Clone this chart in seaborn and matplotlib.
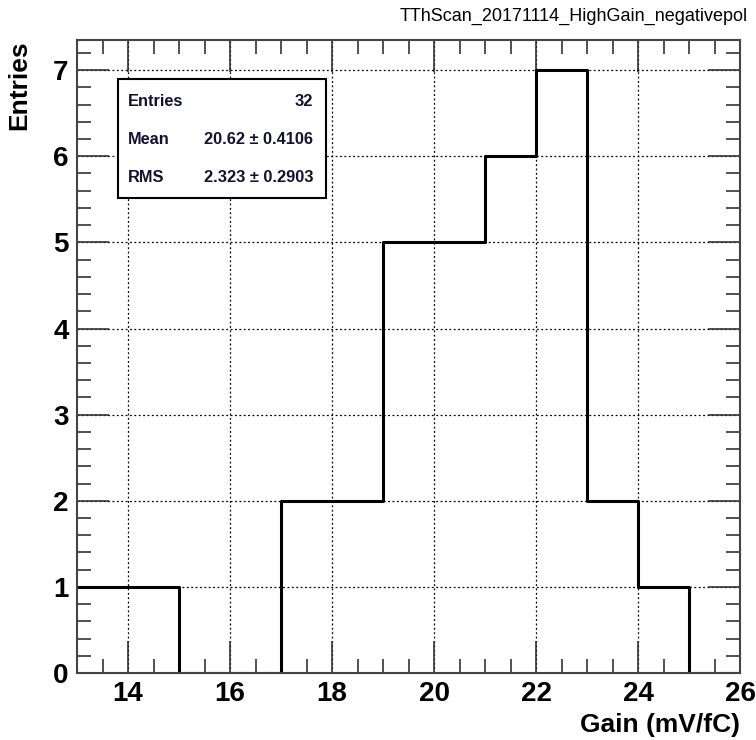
import numpy as np
import pandas as pd
import matplotlib
matplotlib.use("Agg")
import matplotlib.pyplot as plt
from matplotlib.ticker import MultipleLocator
import seaborn as sns

# Data
bin_edges = [13, 14, 15, 16, 17, 18, 19, 20, 21, 22, 23, 24, 25, 26]
counts = [1, 1, 0, 0, 2, 2, 5, 5, 6, 7, 2, 1, 0]
x_ticks = [14, 16, 18, 20, 22, 24, 26]
y_ticks = [0, 1, 2, 3, 4, 5, 6, 7]
title = "TThScan_20171114_HighGain_negativepol"
x_label = "Gain (mV/fC)"
y_label = "Entries"
stats_names = ["Entries", "Mean", "RMS"]
stats_values = ["32", "20.62 \u00b1 0.4106", "2.323 \u00b1 0.2903"]

centers = [(a + b) / 2 for a, b in zip(bin_edges[:-1], bin_edges[1:])]
df = pd.DataFrame({"gain": centers, "n": counts})

sns.set_style("white")
plt.rcParams['font.family'] = ['Liberation Sans', 'DejaVu Sans']
plt.rcParams['text.color'] = 'black'
plt.rcParams['axes.labelcolor'] = 'black'
plt.rcParams['xtick.color'] = 'black'
plt.rcParams['ytick.color'] = 'black'

fig = plt.figure(figsize=(7.56, 7.40), dpi=100)
ax = fig.add_axes([77/756, 1-673/740, (740-77)/756, (673-40)/740])

sns.histplot(data=df, x="gain", weights="n", bins=bin_edges, element="step",
             fill=False, color="black", linewidth=2.2, ax=ax)

ax.set_xlim(13, 26)
ax.set_ylim(0, 7.35)
ax.set_xticks(x_ticks)
ax.set_yticks(y_ticks)
ax.xaxis.set_minor_locator(MultipleLocator(0.5))
ax.yaxis.set_minor_locator(MultipleLocator(0.2))
ax.tick_params(axis='both', which='major', direction='in', length=23, width=1.2,
               top=True, right=True, bottom=True, left=True, labelsize=20,
               color='#333333', labelcolor='black', pad=6)
ax.tick_params(axis='both', which='minor', direction='in', length=10, width=1.2,
               top=True, right=True, bottom=True, left=True, color='#333333')
for lab in ax.get_xticklabels() + ax.get_yticklabels():
    lab.set_fontweight('bold')
ax.grid(True, which='major', linestyle=(0, (1.5, 2)), color='black', linewidth=0.9)
ax.set_axisbelow(True)
for sp in ax.spines.values():
    sp.set_color('#444444')
    sp.set_linewidth(1.5)

ax.set_xlabel(x_label, fontsize=19, fontweight='bold', loc='right', labelpad=4)
ax.set_ylabel(y_label, fontsize=19, fontweight='bold', loc='top', labelpad=16)

fig.text(748/756, 1-16/740, title, ha='right', va='center', fontsize=13)

# Stats box
box = plt.Rectangle((118/756, 1-198/740), (326-118)/756, (198-79)/740,
                    transform=fig.transFigure, facecolor='white', edgecolor='black',
                    linewidth=1.5, zorder=5)
fig.patches.append(box)
ys = [101, 139, 178]
for name, val, y in zip(stats_names, stats_values, ys):
    fig.text(128/756, 1-y/740, name, ha='left', va='center', fontsize=11.8,
             fontweight='bold', zorder=6, color='#111133')
    fig.text(313/756, 1-y/740, val, ha='right', va='center', fontsize=11.8,
             fontweight='bold', zorder=6, color='#111133')

fig.savefig("out.png", dpi=100)
